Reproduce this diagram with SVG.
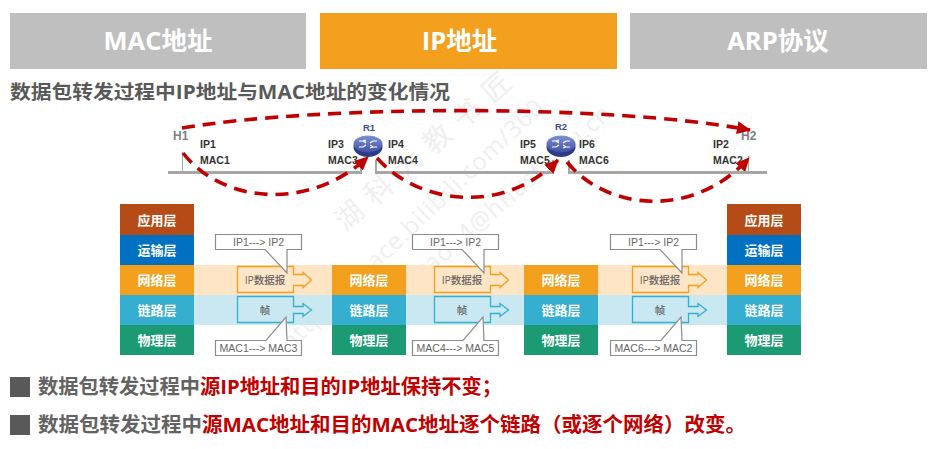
<svg xmlns="http://www.w3.org/2000/svg" width="939" height="449" viewBox="0 0 939 449">
<style>
text{font-family:"Open Sans","Noto Sans CJK SC",sans-serif}
.tab{font-size:25.500px;font-weight:700;fill:#fff;text-anchor:middle}
.h{font-size:19px;font-weight:700;fill:#595959}
.b{font-size:20.200px;font-weight:700;fill:#636363}
.r{fill:#c00000}
.nl{font-size:10.500px;font-weight:700;fill:#333;font-family:"Liberation Sans",sans-serif}
.hn{font-size:12px;font-weight:700;fill:#7f7f7f;font-family:"Liberation Sans",sans-serif}
.rn{font-size:9.500px;font-weight:700;fill:#3a4a8c;font-family:"Liberation Sans",sans-serif;text-anchor:middle}
.ly{font-size:13px;font-weight:700;fill:#fff;text-anchor:middle}
.cb{font-size:10.500px;fill:#666;text-anchor:middle;font-family:"Liberation Sans",sans-serif}
.pk{font-size:10.500px;font-weight:500;fill:#666;text-anchor:middle}
.wm1{font-size:28px;fill:#efefef;letter-spacing:11px}
.wm2{font-size:24px;fill:#efefef;letter-spacing:1px}
.dash{fill:none;stroke:#c00000;stroke-width:3.600;stroke-dasharray:13 8}
.wire{fill:none;stroke:#a6a6a6;stroke-width:3}
.stub{fill:none;stroke:#a6a6a6;stroke-width:1}
.stub2{fill:none;stroke:#a6a6a6;stroke-width:2}
.call{fill:#fff;stroke:#8c8c8c;stroke-width:1.200}
.pn{fill:#fde5c6;stroke:#f2a01e;stroke-width:1.300}
.pb{fill:#c9e8f1;stroke:#35aed0;stroke-width:1.300}
</style>
<defs>
<marker id="ah" markerUnits="userSpaceOnUse" markerWidth="15" markerHeight="13" refX="13" refY="6.500" orient="auto"><path d="M0 0L14 6.500L0 13z" fill="#c00000"/></marker>
<linearGradient id="rg" x1="0" y1="0" x2="0" y2="1"><stop offset="0" stop-color="#7f92d2"/><stop offset="1" stop-color="#3f50a4"/></linearGradient>
<g id="rt"><ellipse cx="0" cy="1" rx="14.500" ry="10" fill="#2d3b86"/><ellipse cx="0" cy="-2" rx="14.500" ry="8.500" fill="url(#rg)"/><path d="M-9 -5h4l3 2M-9 1h4l3-2M9 -5h-4l-3 2M9 1h-4l-3-2M-2 -6l-3 1l3 1M2 -1l3 2l-3 1" fill="none" stroke="#fff" stroke-width="1.200"/></g>
</defs>
<rect width="939" height="449" fill="#fff"/>
<g id="watermark">
<text class="wm1" transform="translate(345 232) rotate(-41)">湖科大教书匠</text>
<text class="wm2" transform="translate(290 352) rotate(-43.500)">https://space.bilibili.com/360</text>
<text class="wm2" transform="translate(422 282) rotate(-41)">gao14@hnust.edu.cn</text>
</g>
<g id="tabs">
<rect x="10" y="13" width="296" height="56" fill="#bfbfbf"/><text class="tab" x="158" y="50">MAC地址</text>
<rect x="320" y="13" width="297" height="56" fill="#f2a01e"/><text class="tab" x="459.500" y="50">IP地址</text>
<rect x="630" y="13" width="297" height="56" fill="#bfbfbf"/><text class="tab" x="778" y="50">ARP协议</text>
</g>
<text id="heading" class="h" x="10" y="99" textLength="440" lengthAdjust="spacingAndGlyphs">数据包转发过程中IP地址与MAC地址的变化情况</text>
<g id="network-wires">
<path class="wire" d="M168 172.500H362M375 172.500H554M568 172.500H767"/>
<path class="stub" d="M182.500 152V171M748.500 156V171"/>
<path class="stub2" d="M361 160V173M376 160V173M553 160V173M569 160V173"/>
</g>
<g id="H1"><text class="hn" x="173" y="140">H1</text></g>
<g id="H2"><text class="hn" x="741" y="140">H2</text></g>
<g id="R1"><text class="rn" x="369" y="131">R1</text><use href="#rt" x="368" y="146"/></g>
<g id="R2"><text class="rn" x="561" y="130">R2</text><use href="#rt" x="561" y="146"/></g>
<g id="addresses">
<text class="nl" x="200" y="148">IP1</text><text class="nl" x="200" y="164">MAC1</text>
<text class="nl" x="328" y="148">IP3</text><text class="nl" x="328" y="164">MAC3</text>
<text class="nl" x="388" y="148">IP4</text><text class="nl" x="388" y="164">MAC4</text>
<text class="nl" x="520" y="148">IP5</text><text class="nl" x="520" y="164">MAC5</text>
<text class="nl" x="579" y="148">IP6</text><text class="nl" x="579" y="164">MAC6</text>
<text class="nl" x="713" y="148">IP2</text><text class="nl" x="713" y="164">MAC2</text>
</g>
<g id="connectors">
<path class="dash" marker-end="url(#ah)" d="M182 128C320 105 610 104 750 130"/>
<path class="dash" marker-end="url(#ah)" d="M183 153C222 203 308 212 368 157"/>
<path class="dash" marker-end="url(#ah)" d="M377 158C420 206 505 214 558 160"/>
<path class="dash" marker-end="url(#ah)" d="M567 162C608 212 695 218 749 158"/>
</g>
<g id="bands">
<rect x="194" y="265" width="533" height="30" fill="#fde5c6"/>
<rect x="194" y="295" width="533" height="30" fill="#c9e8f1"/>
</g>
<g id="stack-left">
<rect x="120" y="204" width="74" height="31" fill="#b54b17"/><text class="ly" x="157" y="225">应用层</text>
<rect x="120" y="235" width="74" height="30" fill="#0070c0"/><text class="ly" x="157" y="255">运输层</text>
<rect x="120" y="265" width="74" height="30" fill="#f2a01e"/><text class="ly" x="157" y="285">网络层</text>
<rect x="120" y="295" width="74" height="30" fill="#35aed0"/><text class="ly" x="157" y="315">链路层</text>
<rect x="120" y="325" width="74" height="30" fill="#1c9a73"/><text class="ly" x="157" y="345">物理层</text>
</g>
<g id="stack-r1">
<rect x="332" y="265" width="74" height="30" fill="#f2a01e"/><text class="ly" x="369" y="285">网络层</text>
<rect x="332" y="295" width="74" height="30" fill="#35aed0"/><text class="ly" x="369" y="315">链路层</text>
<rect x="332" y="325" width="74" height="30" fill="#1c9a73"/><text class="ly" x="369" y="345">物理层</text>
</g>
<g id="stack-r2">
<rect x="524" y="265" width="74" height="30" fill="#f2a01e"/><text class="ly" x="561" y="285">网络层</text>
<rect x="524" y="295" width="74" height="30" fill="#35aed0"/><text class="ly" x="561" y="315">链路层</text>
<rect x="524" y="325" width="74" height="30" fill="#1c9a73"/><text class="ly" x="561" y="345">物理层</text>
</g>
<g id="stack-right">
<rect x="727" y="204" width="74" height="31" fill="#b54b17"/><text class="ly" x="764" y="225">应用层</text>
<rect x="727" y="235" width="74" height="30" fill="#0070c0"/><text class="ly" x="764" y="255">运输层</text>
<rect x="727" y="265" width="74" height="30" fill="#f2a01e"/><text class="ly" x="764" y="285">网络层</text>
<rect x="727" y="295" width="74" height="30" fill="#35aed0"/><text class="ly" x="764" y="315">链路层</text>
<rect x="727" y="325" width="74" height="30" fill="#1c9a73"/><text class="ly" x="764" y="345">物理层</text>
</g>
<g id="packets-1">
<path class="pn" d="M237.500 266.500H293.500V274.500H303V272.500L311.500 280L303 287.500V285.500H293.500V292.500H237.500z"/>
<path class="pb" d="M237.500 296.500H293.500V306.500H303V303.500L311.500 310L303 316.500V313.500H293.500V322.500H237.500z"/>
<text class="pk" x="265" y="284">IP数据报</text><text class="pk" x="265" y="314">帧</text>
<path class="call" d="M215.500 234.500H301.500V249.500H287V273L265 249.500H215.500z"/>
<text class="cb" x="258.500" y="246">IP1---&gt; IP2</text>
<path class="call" d="M215.500 340.500H266L286 317L287 340.500H301.500V355.500H215.500z"/>
<text class="cb" x="258.500" y="352">MAC1---&gt; MAC3</text>
</g>
<g id="packets-2">
<path class="pn" d="M434.500 266.500H490.500V274.500H500V272.500L508.500 280L500 287.500V285.500H490.500V292.500H434.500z"/>
<path class="pb" d="M434.500 296.500H490.500V306.500H500V303.500L508.500 310L500 316.500V313.500H490.500V322.500H434.500z"/>
<text class="pk" x="462" y="284">IP数据报</text><text class="pk" x="462" y="314">帧</text>
<path class="call" d="M412.500 234.500H498.500V249.500H484V273L462 249.500H412.500z"/>
<text class="cb" x="455.500" y="246">IP1---&gt; IP2</text>
<path class="call" d="M412.500 340.500H463L483 317L484 340.500H498.500V355.500H412.500z"/>
<text class="cb" x="455.500" y="352">MAC4---&gt; MAC5</text>
</g>
<g id="packets-3">
<path class="pn" d="M632.500 266.500H688.500V274.500H698V272.500L706.500 280L698 287.500V285.500H688.500V292.500H632.500z"/>
<path class="pb" d="M632.500 296.500H688.500V306.500H698V303.500L706.500 310L698 316.500V313.500H688.500V322.500H632.500z"/>
<text class="pk" x="660" y="284">IP数据报</text><text class="pk" x="660" y="314">帧</text>
<path class="call" d="M610.500 234.500H696.500V249.500H682V273L660 249.500H610.500z"/>
<text class="cb" x="653.500" y="246">IP1---&gt; IP2</text>
<path class="call" d="M610.500 340.500H661L681 317L682 340.500H696.500V355.500H610.500z"/>
<text class="cb" x="653.500" y="352">MAC6---&gt; MAC2</text>
</g>
<g id="notes">
<rect x="10" y="377" width="20" height="20" fill="#595959"/>
<text class="b" x="38" y="394" textLength="464" lengthAdjust="spacingAndGlyphs">数据包转发过程中<tspan class="r">源IP地址和目的IP地址保持不变；</tspan></text>
<rect x="10" y="415" width="20" height="20" fill="#595959"/>
<text class="b" x="38" y="432" textLength="708" lengthAdjust="spacingAndGlyphs">数据包转发过程中<tspan class="r">源MAC地址和目的MAC地址逐个链路（或逐个网络）改变。</tspan></text>
</g>
</svg>
